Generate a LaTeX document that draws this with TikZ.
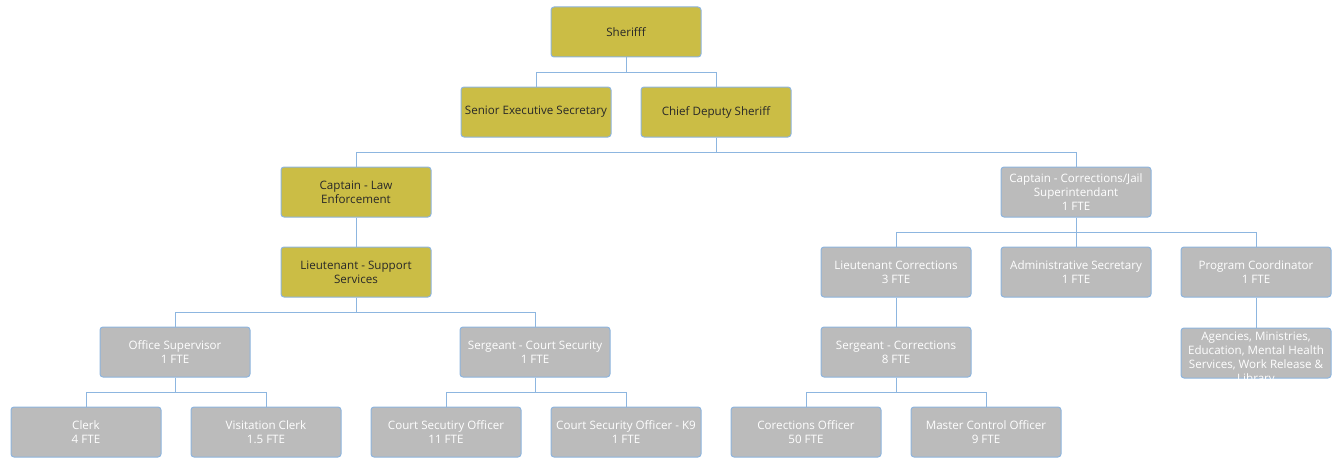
\documentclass[tikz,border=0pt]{standalone}
\usepackage{fontspec}
\setmainfont{Open Sans}
\begin{document}
\begin{tikzpicture}[x=1pt,y=-1pt,
  font=\fontsize{11.6}{14}\selectfont,
  box/.style={draw=boxedge, line width=1pt, rounded corners=3pt,
    minimum width=150pt, minimum height=50pt, inner sep=0pt, align=center},
  gold/.style={box, fill=goldfill, text=darktext},
  grey/.style={box, fill=greyfill, text=white},
  link/.style={draw=linkblue, line width=1pt}]
\definecolor{goldfill}{RGB}{203,189,69}
\definecolor{greyfill}{RGB}{187,187,187}
\definecolor{boxedge}{RGB}{141,180,222}
\definecolor{linkblue}{RGB}{141,182,224}
\definecolor{darktext}{RGB}{40,40,40}
\useasboundingbox (0,0) rectangle (1336,460);

% top levels
\node[gold] (sheriff) at (626,32) {Sherifff};
\node[gold] (sec) at (536,112) {Senior Executive Secretary};
\node[gold] (chief) at (716,112) {Chief Deputy Sheriff};

% law enforcement branch
\node[gold] (caplaw) at (356,192) {Captain - Law\\Enforcement};
\node[gold] (ltsup) at (356,272) {Lieutenant - Support\\Services};
\node[grey] (office) at (175,352) {Office Supervisor\\1 FTE};
\node[grey] (sgtcourt) at (535,352) {Sergeant - Court Security\\1 FTE};
\node[grey] (clerk) at (86,432) {Clerk\\4 FTE};
\node[grey] (visit) at (266,432) {Visitation Clerk\\1.5 FTE};
\node[grey] (cso) at (446,432) {Court Secutiry Officer\\11 FTE};
\node[grey] (k9) at (626,432) {Court Security Officer - K9\\1 FTE};

% corrections branch
\node[grey] (capcor) at (1076,192) {Captain - Corrections/Jail\\Superintendant\\1 FTE};
\node[grey] (ltcor) at (896,272) {Lieutenant Corrections\\3 FTE};
\node[grey] (admin) at (1076,272) {Administrative Secretary\\1 FTE};
\node[grey] (prog) at (1256,272) {Program Coordinator\\1 FTE};
\node[grey] (sgtcor) at (896,352) {Sergeant - Corrections\\8 FTE};
\node[grey] (coro) at (806,432) {Corections Officer\\50 FTE};
\node[grey] (master) at (986,432) {Master Control Officer\\9 FTE};

% partner box: its text runs past the frame and is cut off
\node[grey] (agency) at (1256,353) {};
\begin{scope}
  \clip[rounded corners=3pt] (agency.south west) rectangle (agency.north east);
  \node[text=white, align=center, inner sep=0pt] at (1256,359)
    {Agencies, Ministries,\\Education, Mental Health\\Services, Work Release \&\\Library};
\end{scope}

% connectors
\draw[link] (sheriff.south) -- ++(0,15) -| (sec.north);
\draw[link] (sheriff.south) -- ++(0,15) -| (chief.north);
\draw[link] (chief.south) -- ++(0,15) -| (caplaw.north);
\draw[link] (chief.south) -- ++(0,15) -| (capcor.north);
\draw[link] (caplaw.south) -- (ltsup.north);
\draw[link] (ltsup.south) -- ++(0,15) -| (office.north);
\draw[link] (ltsup.south) -- ++(0,15) -| (sgtcourt.north);
\draw[link] (office.south) -- ++(0,15) -| (clerk.north);
\draw[link] (office.south) -- ++(0,15) -| (visit.north);
\draw[link] (sgtcourt.south) -- ++(0,15) -| (cso.north);
\draw[link] (sgtcourt.south) -- ++(0,15) -| (k9.north);
\draw[link] (capcor.south) -- ++(0,15) -| (ltcor.north);
\draw[link] (capcor.south) -- ++(0,15) -| (admin.north);
\draw[link] (capcor.south) -- ++(0,15) -| (prog.north);
\draw[link] (ltcor.south) -- (sgtcor.north);
\draw[link] (sgtcor.south) -- ++(0,15) -| (coro.north);
\draw[link] (sgtcor.south) -- ++(0,15) -| (master.north);
\draw[link] (prog.south) -- (agency.north);
\end{tikzpicture}
\end{document}
